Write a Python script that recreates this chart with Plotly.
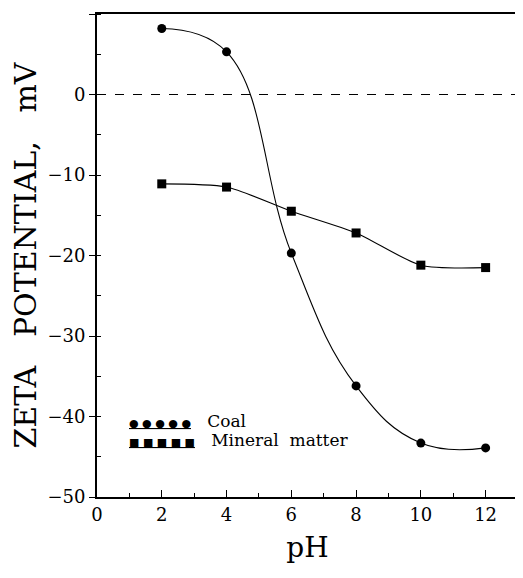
import plotly.graph_objects as go

ph = [2, 4, 6, 8, 10, 12]
coal = [8.2, 5.3, -19.7, -36.2, -43.3, -43.9]
mineral = [-11.1, -11.5, -14.5, -17.2, -21.2, -21.5]

x_ticks = [0, 2, 4, 6, 8, 10, 12]
y_ticks = [10, 0, -10, -20, -30, -40, -50]

font_family = "DejaVu Serif"
NB = "\u00a0"


def legend_symbols(sym):
    return "<span style='font-size:11px'><u>" + NB.join([sym] * 5) + "</u></span>"


fig = go.Figure()
fig.add_trace(go.Scatter(
    x=ph, y=coal, mode="lines+markers", name="Coal",
    line=dict(color="black", width=1.1, shape="spline", smoothing=1.2),
    marker=dict(symbol="circle", size=9, color="black"),
))
fig.add_trace(go.Scatter(
    x=ph, y=mineral, mode="lines+markers", name="Mineral matter",
    line=dict(color="black", width=1.1, shape="spline", smoothing=0.7),
    marker=dict(symbol="square", size=9, color="black"),
))
fig.add_hline(y=0, line=dict(color="black", width=1, dash="dash"))

fig.add_annotation(xref="paper", yref="paper", x=0.072, y=0.158, xanchor="left", yanchor="middle",
                   text=legend_symbols("●") + NB * 3 + "Coal", showarrow=False,
                   font=dict(family=font_family, size=17, color="black"))
fig.add_annotation(xref="paper", yref="paper", x=0.072, y=0.118, xanchor="left", yanchor="middle",
                   text=legend_symbols("■") + NB * 3 + "Mineral" + NB + NB + "matter", showarrow=False,
                   font=dict(family=font_family, size=17, color="black"))

fig.update_layout(
    width=515, height=570,
    margin=dict(l=89, r=3, t=6, b=81),
    paper_bgcolor="white", plot_bgcolor="white",
    showlegend=False,
    font=dict(family=font_family, size=18, color="black"),
    xaxis=dict(
        range=[0, 13], tickvals=x_ticks, ticktext=[str(v) for v in x_ticks],
        ticks="inside", ticklen=7, tickwidth=1, tickcolor="black",
        minor=dict(dtick=1, ticks="inside", ticklen=4, tickcolor="black"),
        showline=True, linecolor="black", linewidth=2, mirror=True,
        showgrid=False, zeroline=False,
        title=dict(text="pH", font=dict(size=28), standoff=14),
    ),
    yaxis=dict(
        range=[-50, 10], tickvals=y_ticks, ticktext=[str(v).replace("-", "\u2212") for v in y_ticks],
        ticks="outside", ticklen=6, tickwidth=1, tickcolor="black",
        minor=dict(dtick=5, ticks="inside", ticklen=4, tickcolor="black"),
        showline=True, linecolor="black", linewidth=2, mirror=True,
        showgrid=False, zeroline=False,
        title=dict(text="ZETA" + NB * 3 + "POTENTIAL," + NB * 3 + "mV", font=dict(size=30), standoff=4),
    ),
)

fig.write_html("out.html")
